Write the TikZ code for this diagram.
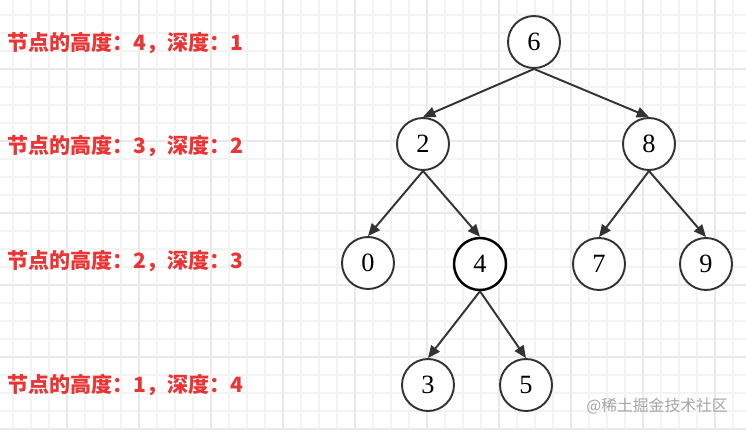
\documentclass[tikz,border=0pt]{standalone}
\usepackage{fontspec}
\usepackage{xcolor}
\usepackage{tikz}
\usetikzlibrary{arrows.meta}
\setmainfont{Liberation Serif}
\newfontfamily\cjk{Noto Sans CJK SC}
\definecolor{labelred}{RGB}{236, 52, 52}
\definecolor{edgegray}{RGB}{51, 51, 51}
\definecolor{gridminor}{RGB}{243, 243, 243}
\definecolor{gridmajor}{RGB}{233, 233, 233}
\definecolor{markgray}{RGB}{165, 165, 165}

\begin{document}
\begin{tikzpicture}[
    x=0.02cm, y=-0.02cm,
    treenode/.style={draw=edgegray, circle, line width=1.1pt, fill=white,
                     minimum size=1.04cm, inner sep=0pt,
                     font=\fontsize{15}{17}\selectfont},
    hilite/.style={draw=black, line width=1.4pt},
    level/.style={anchor=west, text=labelred,
                  font=\cjk\bfseries\fontsize{12}{14}\selectfont},
    edge/.style={draw=edgegray, line width=1.1pt,
                 -{Triangle[length=7pt, width=6pt]}}
]
    \useasboundingbox (0,0) rectangle (746,430);
    \fill[white] (0,0) rectangle (746,430);

    % Grid
    \foreach \x in {13,31,...,745} \draw[gridminor, line width=0.6pt] (\x,0) -- (\x,430);
    \foreach \y in {15,33,...,429} \draw[gridminor, line width=0.6pt] (0,\y) -- (746,\y);
    \foreach \x in {67,139,...,745} \draw[gridmajor, line width=0.8pt] (\x,0) -- (\x,430);
    \foreach \y in {69,141,...,429} \draw[gridmajor, line width=0.8pt] (0,\y) -- (746,\y);

    % Left - Levels
    \node[level] (lev1) at (1,43)  {节点的高度：4，深度：1};
    \node[level] (lev2) at (1,146) {节点的高度：3，深度：2};
    \node[level] (lev3) at (1,261) {节点的高度：2，深度：3};
    \node[level] (lev4) at (1,385) {节点的高度：1，深度：4};

    % Right - Tree
    \node[treenode] (n6) at (534,42)  {6};
    \node[treenode] (n2) at (423,144) {2};
    \node[treenode] (n8) at (649,144) {8};
    \node[treenode] (n0) at (368,263) {0};
    \node[treenode, hilite] (n4) at (480,264) {4};
    \node[treenode] (n7) at (599,264) {7};
    \node[treenode] (n9) at (706,264) {9};
    \node[treenode] (n3) at (428,385) {3};
    \node[treenode] (n5) at (526,385) {5};

    \draw[edge] (n6.south) -- (n2.north);
    \draw[edge] (n6.south) -- (n8.north);
    \draw[edge] (n2.south) -- (n0.north);
    \draw[edge] (n2.south) -- (n4.north);
    \draw[edge] (n8.south) -- (n7.north);
    \draw[edge] (n8.south) -- (n9.north);
    \draw[edge] (n4.south) -- (n3.north);
    \draw[edge] (n4.south) -- (n5.north);

    % Watermark
    \node[anchor=east, text=markgray, font=\cjk\fontsize{9}{11}\selectfont]
        (mark) at (734,406) {@稀土掘金技术社区};
\end{tikzpicture}
\end{document}
